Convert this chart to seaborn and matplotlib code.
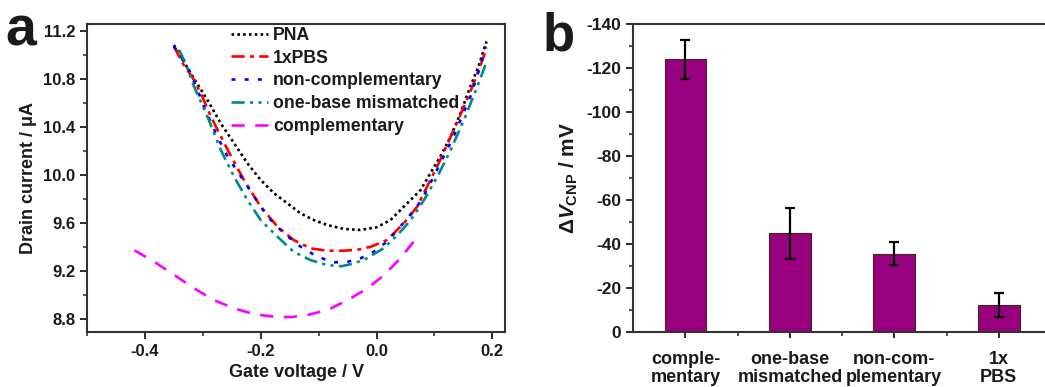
import numpy as np
import pandas as pd
import matplotlib
matplotlib.use("Agg")
import matplotlib.pyplot as plt
from matplotlib.ticker import MultipleLocator
import seaborn as sns

# --------------------------
# Data
# --------------------------
pna_v = [-0.350, -0.335, -0.321, -0.306, -0.292, -0.269, -0.246, -0.223, -0.200, -0.177, -0.154,
         -0.131, -0.108, -0.085, -0.056, -0.028, 0.000, 0.024, 0.053, 0.076, 0.093, 0.110, 0.128,
         0.145, 0.162, 0.176, 0.190]
pna_i = [11.08, 10.96, 10.845, 10.73, 10.622, 10.428, 10.262, 10.095, 9.956, 9.845, 9.762,
         9.678, 9.622, 9.581, 9.548, 9.540, 9.562, 9.622, 9.762, 9.872, 10.012, 10.15, 10.317,
         10.512, 10.733, 10.90, 11.11]

pbs_v = [-0.350, -0.335, -0.315, -0.300, -0.286, -0.257, -0.229, -0.200, -0.171, -0.143, -0.114,
         -0.085, -0.056, -0.030, -0.010, 0.018, 0.047, 0.070, 0.093, 0.110, 0.128, 0.151, 0.168,
         0.185, 0.190]
pbs_i = [11.07, 10.93, 10.789, 10.64, 10.483, 10.206, 9.956, 9.733, 9.567, 9.456, 9.387,
         9.367, 9.367, 9.378, 9.40, 9.456, 9.595, 9.733, 9.956, 10.122, 10.317, 10.567, 10.762,
         10.983, 11.06]

noncomp_v = [-0.350, -0.335, -0.321, -0.298, -0.275, -0.257, -0.234, -0.211, -0.188, -0.160, -0.131,
             -0.102, -0.074, -0.050, -0.028, -0.005, 0.018, 0.036, 0.070, 0.087, 0.110, 0.133,
             0.162, 0.179, 0.188]
noncomp_i = [11.07, 10.96, 10.845, 10.567, 10.317, 10.15, 9.983, 9.817, 9.65, 9.512, 9.40,
             9.317, 9.27, 9.275, 9.303, 9.358, 9.442, 9.539, 9.733, 9.872, 10.095, 10.317,
             10.65, 10.90, 11.07]

mism_v = [-0.341, -0.330, -0.315, -0.292, -0.269, -0.246, -0.223, -0.200, -0.171, -0.143, -0.114,
          -0.085, -0.060, -0.039, -0.017, 0.012, 0.036, 0.059, 0.082, 0.105, 0.128, 0.151, 0.174,
          0.188]
mism_i = [11.04, 10.93, 10.733, 10.483, 10.206, 9.983, 9.789, 9.622, 9.483, 9.358, 9.289,
          9.247, 9.238, 9.261, 9.303, 9.387, 9.497, 9.622, 9.789, 9.983, 10.206, 10.456, 10.733,
          10.914]

comp_v = [-0.418, -0.384, -0.349, -0.315, -0.281, -0.246, -0.212, -0.177, -0.148, -0.120, -0.085,
          -0.050, -0.016, 0.013, 0.041, 0.070]
comp_i = [9.37, 9.275, 9.164, 9.053, 8.956, 8.887, 8.839, 8.817, 8.814, 8.831, 8.872,
          8.956, 9.053, 9.164, 9.303, 9.478]

bar_labels = ["comple-\nmentary", "one-base\nmismatched", "non-com-\nplementary", "1x\nPBS"]
delta_v = [-124.0, -44.7, -35.5, -12.0]
delta_err = [8.9, 11.6, 5.2, 5.5]

# --------------------------
# Style
# --------------------------
sns.set_style("ticks")
plt.rcParams['font.family'] = ['Liberation Sans', 'DejaVu Sans']
plt.rcParams['font.weight'] = 'bold'
plt.rcParams['axes.labelweight'] = 'bold'
plt.rcParams['axes.unicode_minus'] = False
plt.rcParams['mathtext.fontset'] = 'custom'
plt.rcParams['mathtext.rm'] = 'Liberation Sans:bold'
plt.rcParams['mathtext.it'] = 'Liberation Sans:bold:italic'
plt.rcParams['mathtext.bf'] = 'Liberation Sans:bold'
text_col = "#1a1a1a"

fig = plt.figure(figsize=(10.45, 3.87), dpi=100)
ax1 = fig.add_axes([0.0833, 0.1421, 0.4, 0.796])
ax2 = fig.add_axes([0.606, 0.1429, 0.3997, 0.795])

# --------------------------
# Panel a: transfer curves
# --------------------------
curves = [
    ("PNA", pna_v, pna_i, "black", (0, (1, 1.2))),
    ("1xPBS", pbs_v, pbs_i, "red", (0, (5, 2, 1.5, 2))),
    ("non-complementary", noncomp_v, noncomp_i, "blue", (0, (1.5, 3.5))),
    ("one-base mismatched", mism_v, mism_i, "#008b8b", (0, (5, 2, 1.2, 2, 1.2, 2))),
    ("complementary", comp_v, comp_i, "magenta", (0, (5, 4))),
]
for name, xv, yv, col, ls in curves:
    sns.lineplot(x=xv, y=yv, ax=ax1, color=col, linewidth=1.9, label=name, sort=False)
    ax1.lines[-1].set_linestyle(ls)

ax1.set_xlim(-0.5, 0.222)
ax1.set_ylim(8.69, 11.256)
ax1.xaxis.set_minor_locator(MultipleLocator(0.1))
ax1.yaxis.set_major_locator(MultipleLocator(0.4))
ax1.yaxis.set_minor_locator(MultipleLocator(0.2))
ax1.set_xticks([-0.4, -0.2, 0.0, 0.2])
ax1.set_xticklabels(["-0.4", "-0.2", "0.0", "0.2"])
ax1.set_xlabel("Gate voltage / V", fontsize=13, color=text_col, labelpad=4)
ax1.set_ylabel("Drain current / μA", fontsize=13, color=text_col, labelpad=4)
for sp in ax1.spines.values():
    sp.set_visible(True)
    sp.set_linewidth(1.5)
    sp.set_color("#333333")
ax1.tick_params(which="major", length=5, width=1.3, labelsize=12, colors=text_col)
ax1.tick_params(which="minor", length=3, width=1.1)

leg = ax1.legend(loc="upper left", bbox_to_anchor=(0.318, 1.025), frameon=False,
                 fontsize=12.7, handlelength=2.1, handletextpad=0.3, labelspacing=0.33,
                 borderaxespad=0.2)
for t in leg.get_texts():
    t.set_fontweight("bold")
    t.set_color(text_col)

# --------------------------
# Panel b: Dirac point shift
# --------------------------
df_bar = pd.DataFrame({"sample": bar_labels, "shift": delta_v, "err": delta_err})
sns.barplot(data=df_bar, x="sample", y="shift", ax=ax2, color="#990080", width=0.4,
            edgecolor="#3a2a10", linewidth=0.8, errorbar=None, saturation=1)
ax2.errorbar(x=np.arange(len(bar_labels)), y=df_bar["shift"], yerr=df_bar["err"],
             fmt="none", ecolor="black", elinewidth=1.6, capsize=3.5, capthick=1.6)

ax2.set_xlim(-0.5, 3.5)
ax2.set_ylim(0, -140)
ax2.yaxis.set_major_locator(MultipleLocator(20))
ax2.yaxis.set_minor_locator(MultipleLocator(10))
ax2.tick_params(which="major", length=5, width=1.3, labelsize=12.5, colors=text_col)
ax2.tick_params(which="minor", length=3, width=1.1)
ax2.tick_params(axis="x", which="major", length=4, pad=10, labelsize=13)
ax2.set_xticks(np.arange(len(bar_labels)))
ax2.set_xticks(np.arange(len(bar_labels)) + 0.5, minor=True)
ax2.set_xticklabels(bar_labels, fontsize=13, fontweight="bold", color=text_col,
                    linespacing=1.1)
ax2.set_xlabel("")
ax2.set_ylabel(r"$\Delta\mathit{V}_{\mathregular{CNP}}$ / mV", fontsize=15, color=text_col, labelpad=5)
for sp in ["left", "bottom", "top"]:
    ax2.spines[sp].set_visible(True)
    ax2.spines[sp].set_linewidth(1.5)
    ax2.spines[sp].set_color("#333333")
ax2.spines["right"].set_visible(False)

# panel letters
fig.text(0.005, 0.985, "a", fontsize=40, fontweight="bold", va="top", ha="left", color=text_col)
fig.text(0.519, 0.97, "b", fontsize=38, fontweight="bold", va="top", ha="left", color=text_col)

fig.savefig("out.png", dpi=100)
